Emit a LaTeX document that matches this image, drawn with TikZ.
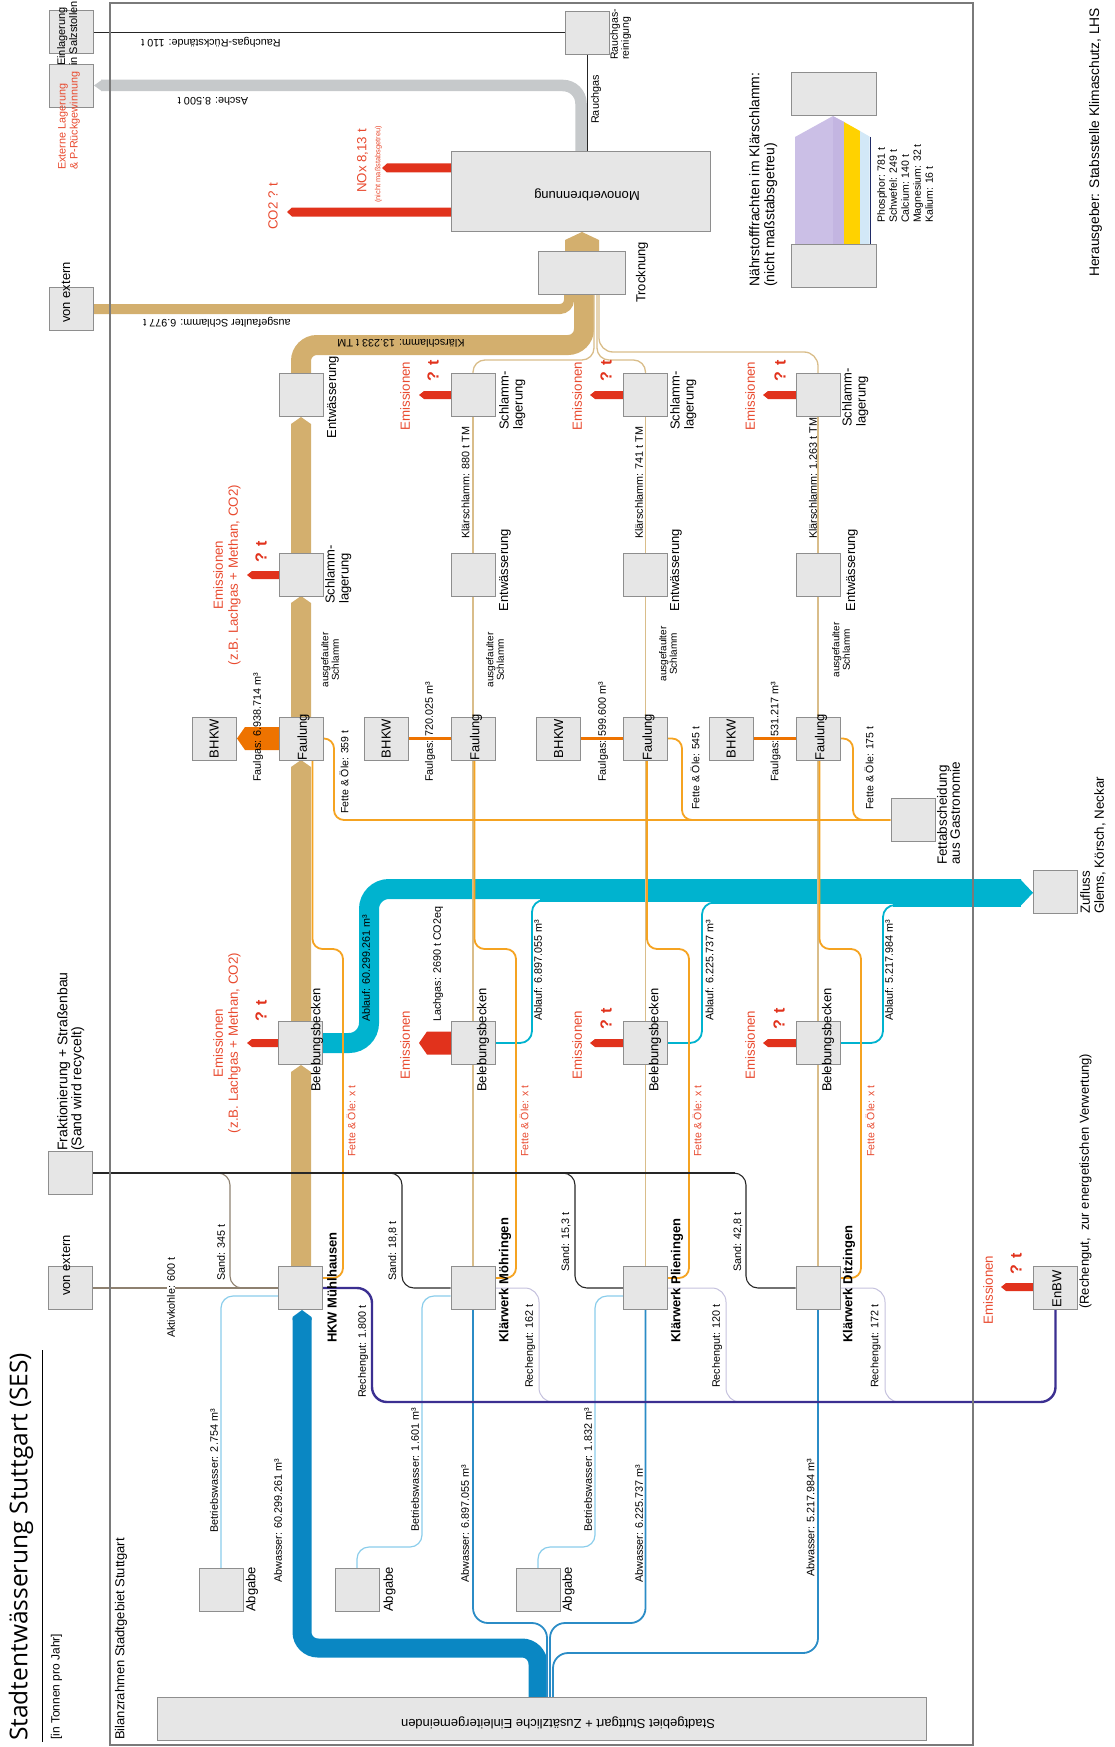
\documentclass[tikz,border=0pt]{standalone}
\usepackage{fontspec}
\setmainfont{Liberation Sans}
\newfontfamily\titlefont{Open Sans}
\usetikzlibrary{positioning}

\definecolor{boxfill}{HTML}{E6E6E6}
\definecolor{boxline}{HTML}{8E8E8E}
\definecolor{schlamm}{HTML}{D3AF6E}
\definecolor{schlammhell}{HTML}{D9BD8A}
\definecolor{ablauf}{HTML}{00B3CF}
\definecolor{abwasser}{HTML}{0A87C3}
\definecolor{abwasserhell}{HTML}{2B8CC6}
\definecolor{betrieb}{HTML}{8ACDEB}
\definecolor{fettfarbe}{HTML}{F5A321}
\definecolor{gas}{HTML}{EE7300}
\definecolor{emisrot}{HTML}{E1321C}
\definecolor{textrot}{HTML}{E84A2F}
\definecolor{rechen}{HTML}{3B2F91}
\definecolor{rechenhell}{HTML}{C5C1DD}
\definecolor{asche}{HTML}{C6C9CB}
\definecolor{kohle}{HTML}{8E8170}
\definecolor{rahmen}{HTML}{7A7A7A}
\definecolor{phosphor}{HTML}{CBBFE6}
\definecolor{phosphorb}{HTML}{C3B5E1}
\definecolor{schwefel}{HTML}{FFD200}
\definecolor{calcium}{HTML}{D2E8F7}
\definecolor{kalium}{HTML}{1F2A66}

\pgfdeclarelayer{flows}
\pgfsetlayers{flows,main}

\tikzset{
    kasten/.style={draw=boxline, fill=boxfill, line width=0.9pt, minimum width=44pt, minimum height=43pt, inner sep=0pt},
    lbl/.style={rotate=90, anchor=west, inner sep=0pt, font=\fontsize{10.8}{12}\selectfont},
    kopf/.style={rotate=180, inner sep=0pt, font=\fontsize{10.8}{12}\selectfont},
    boxlbl/.style={rotate=90, inner sep=0pt, font=\fontsize{13}{14}\selectfont},
    werk/.style={rotate=90, anchor=west, inner sep=0pt, font=\bfseries\fontsize{13}{14}\selectfont},
    emlbl/.style={rotate=90, inner sep=0pt, text=textrot, align=center, font=\fontsize{13.3}{15}\selectfont},
    qt/.style={rotate=90, inner sep=0pt, text=emisrot, font=\bfseries\fontsize{16}{16}\selectfont},
    emis/.style={fill=emisrot},
    fett/.style={draw=fettfarbe, line width=1.8pt, rounded corners=10pt},
    duenn/.style={draw=schlammhell, line width=1.3pt}
}

\begin{document}
\begin{tikzpicture}[x=1pt, y=-1pt]
\useasboundingbox (0,0) rectangle (1115,1747);

% Rahmen und Titel
\draw[rahmen, line width=1.2pt] (110,3) rectangle (973,1745);
\node[rotate=90, anchor=west, inner sep=0pt, font=\titlefont\fontsize{24.5}{28}\selectfont] (titel) at (21,1741) {Stadtentwässerung Stuttgart (SES)};
\draw[line width=0.8pt] (42,1350) -- (42,1742);
\node[lbl, font=\fontsize{12}{13}\selectfont] (einheit) at (56.5,1740) {[in Tonnen pro Jahr]};
\node[lbl, font=\fontsize{13}{14}\selectfont] (bilanz) at (121,1740) {Bilanzrahmen Stadtgebiet Stuttgart};

% Kaesten
\node[kasten] (salz) at (71,31.5) {};
\node[kasten] (extlager) at (71,86) {};
\node[kasten] (vonext1) at (71,309) {};
\node[kasten] (rgr) at (587,32.5) {};
\node[kasten, minimum width=259pt, minimum height=80pt] (mono) at (580.5,191) {};
\node[kasten, minimum width=87pt] (trock) at (581.5,272.5) {};
\node[kasten, minimum width=85pt] (ntop) at (833.5,93.5) {};
\node[kasten, minimum width=85pt] (nbot) at (833.5,265.5) {};

\node[kasten] (hentw) at (301,395) {};
\node[kasten] (hlager) at (301,575) {};
\node[kasten] (hfaul) at (301,738.5) {};
\node[kasten] (hbeleb) at (300.5,1043) {};
\node[kasten] (hkw) at (300.5,1288) {};
\node[kasten, left=42pt of hfaul] (hbhkw) {};

\node[kasten] (mlager) at (473,395) {};
\node[kasten] (mentw) at (473,575) {};
\node[kasten] (mfaul) at (473,738.5) {};
\node[kasten] (mbeleb) at (473,1043) {};
\node[kasten] (mwerk) at (473,1288) {};
\node[kasten, left=42pt of mfaul] (mbhkw) {};

\node[kasten] (plager) at (645.5,395) {};
\node[kasten] (pentw) at (645.5,575) {};
\node[kasten] (pfaul) at (645.5,738.5) {};
\node[kasten] (pbeleb) at (645.5,1043) {};
\node[kasten] (pwerk) at (645.5,1288) {};
\node[kasten, left=42pt of pfaul] (pbhkw) {};

\node[kasten] (dlager) at (818,395) {};
\node[kasten] (dentw) at (818,575) {};
\node[kasten] (dfaul) at (818,738.5) {};
\node[kasten] (dbeleb) at (818,1043) {};
\node[kasten] (dwerk) at (818,1288) {};
\node[kasten, left=42pt of dfaul] (dbhkw) {};

\node[kasten] (fett) at (913,820) {};
\node[kasten] (zufluss) at (1055.5,892) {};
\node[kasten] (enbw) at (1055.5,1288) {};
\node[kasten] (frakt) at (70.5,1173) {};
\node[kasten] (vonext2) at (70.5,1288) {};
\node[kasten] (abg1) at (221,1590) {};
\node[kasten] (abg2) at (357,1590) {};
\node[kasten] (abg3) at (538,1590) {};
\node[kasten, minimum width=769pt] (stadt) at (541.5,1718.5) {};

\begin{pgfonlayer}{flows}
% Schlamm
\fill[schlamm] (291,1266) -- (291,1072) -- (301,1065) -- (311,1072) -- (311,1266) -- cycle;
\fill[schlamm] (291,1021) -- (291,767) -- (301,760) -- (311,767) -- (311,1021) -- cycle;
\fill[schlamm] (291,717) -- (291,603) -- (301,596) -- (311,603) -- (311,717) -- cycle;
\fill[schlamm] (291,553) -- (291,424) -- (301,417) -- (311,424) -- (311,553) -- cycle;
\draw[schlamm, line width=20pt, rounded corners=16pt] (hentw.north) |- (584,345) -- (584,294);
\draw[schlamm, line width=10pt, rounded corners=9pt] (vonext1.east) -| (569,294);
\fill[schlamm] (565,251) -- (565,240) -- (582,232) -- (599,240) -- (599,251) -- cycle;

% Abwasser
\draw[abwasser, line width=19pt, rounded corners=16pt] (538,1697) |- (302,1648) -- (302,1318);
\fill[abwasser] (292.5,1320) -- (292.5,1317) -- (302,1310) -- (311.5,1317) -- (311.5,1320) -- cycle;

% Ablauf
\draw[ablauf, line width=20pt, rounded corners=20pt] (hbeleb.east) -| (369,889) -- (1021,889);
\fill[ablauf] (540,898) rectangle (1021,901.5);
\fill[ablauf] (712,898) rectangle (1021,904);
\fill[ablauf] (893,898) rectangle (1021,906.5);
\fill[ablauf] (1020,879) -- (1033,892.75) -- (1020,906.5) -- cycle;
\draw[ablauf, line width=1.8pt, rounded corners=12pt] (mbeleb.east) -| (532,900) -- (552,900);
\draw[ablauf, line width=1.8pt, rounded corners=12pt] (pbeleb.east) -| (702,902.5) -- (722,902.5);
\draw[ablauf, line width=1.8pt, rounded corners=12pt] (dbeleb.east) -| (883,905) -- (903,905);

% Klaerschlamm der Klaerwerke
\draw[duenn] (mwerk.north) -- (mbeleb.south) (mbeleb.north) -- (mfaul.south) (mfaul.north) -- (mentw.south) (mentw.north) -- (mlager.south);
\draw[duenn] (pwerk.north) -- (pbeleb.south) (pbeleb.north) -- (pfaul.south) (pfaul.north) -- (pentw.south) (pentw.north) -- (plager.south);
\draw[duenn] (dwerk.north) -- (dbeleb.south) (dbeleb.north) -- (dfaul.south) (dfaul.north) -- (dentw.south) (dentw.north) -- (dlager.south);
\draw[duenn, rounded corners=12pt] (mlager.north) |- (594,360) -- (594,294);
\draw[duenn, rounded corners=12pt] (plager.north) |- (597,360) -- (597,294);
\draw[duenn, rounded corners=14pt] (dlager.north) |- (599,352) -- (599,294);

% Abwasser der Klaerwerke
\draw[abwasserhell, line width=1.8pt, rounded corners=15pt] (mwerk.south) |- (547,1623) -- (547,1697);
\draw[abwasserhell, line width=1.8pt, rounded corners=15pt] (pwerk.south) |- (550,1623) -- (550,1697);
\draw[abwasserhell, line width=1.8pt, rounded corners=15pt] (dwerk.south) |- (553,1653) -- (553,1697);

% Betriebswasser
\draw[betrieb, line width=1.2pt, rounded corners=12pt] ([yshift=-8pt]hkw.west) -| (abg1.north);
\draw[betrieb, line width=1.2pt, rounded corners=12pt] ([yshift=-8pt]mwerk.west) -| (422,1547) -| (abg2.north);
\draw[betrieb, line width=1.2pt, rounded corners=12pt] ([yshift=-8pt]pwerk.west) -| (595,1547) -| (abg3.north);

% Fette und Oele
\draw[fett] ([yshift=10pt]hkw.east) -| (343,949) -| ([xshift=11.5pt]hfaul.south);
\draw[fett] ([yshift=10pt]mwerk.east) -| (516,949) -| ([xshift=1.5pt]mfaul.south);
\draw[fett] ([yshift=10pt]pwerk.east) -| (689,949) -| ([xshift=1.5pt]pfaul.south);
\draw[fett] ([yshift=10pt]dwerk.east) -| (861,949) -| ([xshift=1.5pt]dfaul.south);
\draw[fett] (hfaul.east) -| (334,820) -- (fett.west);
\draw[fett] (pfaul.east) -| (682,820) -- (705,820);
\draw[fett] (dfaul.east) -| (853,820) -- (875,820);

% Faulgas
\fill[gas] (279,727) -- (245,727) -- (237,738.5) -- (245,750) -- (279,750) -- cycle;
\draw[gas, line width=2.6pt] (mbhkw.east) -- (mfaul.west);
\draw[gas, line width=2.6pt] (pbhkw.east) -- (pfaul.west);
\draw[gas, line width=2.6pt] (dbhkw.east) -- (dfaul.west);

% Rechengut
\draw[rechenhell, line width=1pt, rounded corners=14pt] (mwerk.east) -| (539,1402) -- (560,1402);
\draw[rechenhell, line width=1pt, rounded corners=14pt] (pwerk.east) -| (726,1402) -- (750,1402);
\draw[rechenhell, line width=1pt, rounded corners=14pt] (dwerk.east) -| (885,1402) -- (910,1402);
\draw[rechen, line width=2.4pt, rounded corners=15pt] (hkw.east) -| (372,1402) -| (enbw.south);

% Sand und Aktivkohle
\draw[kohle, line width=1.1pt] (vonext2.east) -- (hkw.west);
\draw[kohle, line width=1.1pt, rounded corners=12pt] (213,1173) -| (230,1288) -- (hkw.west);
\draw[black!85, line width=1.1pt] (frakt.east) -- (735,1173);
\draw[black!85, line width=1.1pt, rounded corners=12pt] (385,1173) -| (402,1288) -- (mwerk.west);
\draw[black!85, line width=1.1pt, rounded corners=12pt] (558,1173) -| (575,1288) -- (pwerk.west);
\draw[black!85, line width=1.1pt, rounded corners=12pt] (725,1173) -| (746,1288) -- (dwerk.west);

% Verbrennung
\draw[asche, line width=11.5pt, rounded corners=18pt] (581,151) |- (101,85.5);
\fill[asche] (102,79.75) -- (94,85.5) -- (102,91.25) -- cycle;
\draw[black!85, line width=0.9pt] (mono.north -| rgr.south) -- (rgr.south);
\draw[black!85, line width=0.9pt] (rgr.west) -- (rgr.west -| salz.east);

% Emissionen
\fill[emis] (451,207.5) -- (292,207.5) -- (287,212) -- (292,216.5) -- (451,216.5) -- cycle;
\fill[emis] (451,163.5) -- (387,163.5) -- (382,168) -- (387,172.5) -- (451,172.5) -- cycle;
\fill[emis] (279,571) -- (252,571) -- (247,575) -- (252,579) -- (279,579) -- cycle;
\fill[emis] (278,1039) -- (252,1039) -- (247,1043) -- (252,1047) -- (278,1047) -- cycle;
\fill[emis] (451,391) -- (424,391) -- (419,395) -- (424,399) -- (451,399) -- cycle;
\fill[emis] (624,391) -- (595,391) -- (590,395) -- (595,399) -- (624,399) -- cycle;
\fill[emis] (797,391) -- (768,391) -- (763,395) -- (768,399) -- (797,399) -- cycle;
\fill[emis] (451,1031.5) -- (427,1031.5) -- (419,1043) -- (427,1054.5) -- (451,1054.5) -- cycle;
\fill[emis] (624,1039) -- (595,1039) -- (590,1043) -- (595,1047) -- (624,1047) -- cycle;
\fill[emis] (796,1039) -- (768,1039) -- (763,1043) -- (768,1047) -- (796,1047) -- cycle;
\fill[emis] (1034,1283) -- (1006,1283) -- (1001,1287) -- (1006,1291) -- (1034,1291) -- cycle;

% Naehrstoffe
\fill[phosphor] (795,244) -- (795,137) -- (833,116) -- (844,122) -- (844,244) -- cycle;
\fill[phosphorb] (833,116.5) -- (844,122) -- (844,244) -- (833,244) -- cycle;
\fill[schwefel] (844,122) -- (860,131) -- (860,244) -- (844,244) -- cycle;
\fill[calcium] (860,131) -- (869.5,136.5) -- (869.5,244) -- (860,244) -- cycle;
\draw[kalium, line width=1.6pt] (870.5,137) -- (870.5,244);
\end{pgfonlayer}

% Beschriftung der Kaesten
\node[boxlbl, anchor=north west, align=left, font=\fontsize{11}{12}\selectfont] (tsalz) at (57,66) {Einlagerung\\in Salzstollen};
\node[boxlbl, anchor=north west, align=left, text=textrot, font=\fontsize{10.8}{12}\selectfont] (text) at (58,170) {Externe Lagerung\\\& P-Rückgewinnung};
\node[boxlbl, anchor=west] (tvon1) at (66,323) {von extern};
\node[boxlbl, anchor=west] (tvon2) at (66,1296) {von extern};
\node[boxlbl, anchor=north west, align=left, font=\fontsize{14}{14}\selectfont] (tfrakt) at (57,1151) {Fraktionierung + Straßenbau\\(Sand wird recycelt)};
\node[boxlbl, anchor=north west, align=left, font=\fontsize{10.5}{11}\selectfont] (trgr) at (610,60) {Rauchgas-\\reinigung};
\node[boxlbl, rotate=90] (tmono) at (587,195) {Monoverbrennung};
\node[boxlbl, anchor=west] (ttrock) at (642,303) {Trocknung};
\node[boxlbl, anchor=north west, align=left, font=\fontsize{14}{15}\selectfont] (tnaehr) at (749,287) {Nährstofffrachten im Klärschlamm:\\(nicht maßstabsgetreu)};
\node[boxlbl, anchor=north west, align=left, font=\fontsize{10.5}{12}\selectfont] (tliste) at (877,223) {Phosphor: 781 t\\Schwefel: 249 t\\Calcium: 140 t\\Magnesium: 32 t\\Kalium: 16 t};
\node[boxlbl, anchor=west, font=\fontsize{13.8}{15}\selectfont] (theraus) at (1095.5,277) {Herausgeber: Stabsstelle Klimaschutz, LHS};
\node[boxlbl, anchor=north west, align=left, font=\fontsize{13.5}{13}\selectfont] (tfett) at (937,865) {Fettabscheidung\\aus Gastronomie};
\node[boxlbl, anchor=north west, align=left, font=\fontsize{13.3}{14}\selectfont] (tzufluss) at (1080,914) {Zufluss\\Glems, Körsch, Neckar};
\node[boxlbl] (tenbw) at (1057,1289) {EnBW};
\node[boxlbl, anchor=west] (tverw) at (1085.5,1309) {(Rechengut,\ \ zur energetischen Verwertung)};
\node[boxlbl, rotate=90] (tstadt) at (558,1723) {Stadtgebiet Stuttgart + Zusätzliche Einleitergemeinden};

\node[boxlbl, anchor=north] (thentw) at (327,397) {Entwässerung};
\node[boxlbl, anchor=north] (tmentw) at (499,570) {Entwässerung};
\node[boxlbl, anchor=north] (tpentw) at (670,570) {Entwässerung};
\node[boxlbl, anchor=north] (tdentw) at (846,570) {Entwässerung};
\node[boxlbl, anchor=north west, align=left] (thlager) at (325,604) {Schlamm-\\lagerung};
\node[boxlbl, anchor=north west, align=left] (tmlager) at (499,430) {Schlamm-\\lagerung};
\node[boxlbl, anchor=north west, align=left] (tplager) at (670,430) {Schlamm-\\lagerung};
\node[boxlbl, anchor=north west, align=left] (tdlager) at (842,427) {Schlamm-\\lagerung};
\node[boxlbl, anchor=west] (thfaul) at (303.5,761) {Faulung};
\node[boxlbl, anchor=west] (tmfaul) at (476,761) {Faulung};
\node[boxlbl, anchor=west] (tpfaul) at (648.5,761) {Faulung};
\node[boxlbl, anchor=west] (tdfaul) at (821,761) {Faulung};
\node[boxlbl] (thbhkw) at (hbhkw) {BHKW};
\node[boxlbl] (tmbhkw) at (mbhkw) {BHKW};
\node[boxlbl] (tpbhkw) at (pbhkw) {BHKW};
\node[boxlbl] (tdbhkw) at (dbhkw) {BHKW};
\node[boxlbl, anchor=west] (thbeleb) at (317,1092) {Belebungsbecken};
\node[boxlbl, anchor=west] (tmbeleb) at (483,1092) {Belebungsbecken};
\node[boxlbl, anchor=west] (tpbeleb) at (655,1092) {Belebungsbecken};
\node[boxlbl, anchor=west] (tdbeleb) at (828,1092) {Belebungsbecken};
\node[werk] (thkw) at (332,1343) {HKW Mühlhausen};
\node[werk] (tmwerk) at (505,1343) {Klärwerk Möhringen};
\node[werk] (tpwerk) at (677,1343) {Klärwerk Plieningen};
\node[werk] (tdwerk) at (849,1343) {Klärwerk Ditzingen};
\node[boxlbl, anchor=west] (tabg1) at (252,1612) {Abgabe};
\node[boxlbl, anchor=west] (tabg2) at (389.5,1612) {Abgabe};
\node[boxlbl, anchor=west] (tabg3) at (568.5,1612) {Abgabe};

% Emissionen
\node[emlbl] (eh1) at (227,575) {Emissionen\\(z.B. Lachgas + Methan, CO2)};
\node[emlbl] (eh2) at (227,1043) {Emissionen\\(z.B. Lachgas + Methan, CO2)};
\node[emlbl] (em1) at (405,396) {Emissionen};
\node[emlbl] (ep1) at (577,396) {Emissionen};
\node[emlbl] (ed1) at (750,396) {Emissionen};
\node[emlbl] (em2) at (405,1045) {Emissionen};
\node[emlbl] (ep2) at (577,1045) {Emissionen};
\node[emlbl] (ed2) at (750,1045) {Emissionen};
\node[emlbl] (ee) at (988,1290) {Emissionen};
\node[qt] (qh1) at (261,552) {? t};
\node[qt] (qh2) at (261,1011) {? t};
\node[qt] (qm1) at (433,371) {? t};
\node[qt] (qp1) at (606,371) {? t};
\node[qt] (qd1) at (780,371) {? t};
\node[qt] (qp2) at (606,1019) {? t};
\node[qt] (qd2) at (779,1019) {? t};
\node[qt] (qe) at (1016,1264) {? t};
\node[emlbl, anchor=west] (tco2) at (273,230) {CO2 ? t};
\node[emlbl, anchor=west] (tnox) at (362.5,193) {NOx 8,13 t};
\node[emlbl, anchor=west, font=\fontsize{7.5}{8}\selectfont] (tmass) at (378.5,203) {(nicht maßstabsgetreu)};

% Stroeme
\node[kopf] (lrr) at (211,42) {Rauchgas-Rückstände: 110 t};
\node[kopf] (lasche) at (213,101) {Asche: 8.500 t};
\node[kopf] (lausext) at (217,322) {ausgefaulter Schlamm: 6.977 t};
\node[kopf] (lks) at (401,343) {Klärschlamm: 13.233 t TM};
\node[lbl] (lrg) at (596,124) {Rauchgas};
\node[lbl] (lfg1) at (258,782) {Faulgas: 6.938.714 m³};
\node[lbl] (lfg2) at (430,782) {Faulgas: 720.025 m³};
\node[lbl] (lfg3) at (603,782) {Faulgas: 599.600 m³};
\node[lbl] (lfg4) at (775.5,782) {Faulgas: 531.217 m³};
\node[lbl, font=\fontsize{10.5}{12}\selectfont] (lfo1) at (344,814) {Fette \& Öle: 359 t};
\node[lbl, font=\fontsize{10.5}{12}\selectfont] (lfo3) at (695,810) {Fette \& Öle: 545 t};
\node[lbl, font=\fontsize{10.5}{12}\selectfont] (lfo4) at (869,810) {Fette \& Öle: 175 t};
\node[lbl, text=textrot, font=\fontsize{10.5}{12}\selectfont] (lfx1) at (351,1157) {Fette \& Öle: x t};
\node[lbl, text=textrot, font=\fontsize{10.5}{12}\selectfont] (lfx2) at (524,1157) {Fette \& Öle: x t};
\node[lbl, text=textrot, font=\fontsize{10.5}{12}\selectfont] (lfx3) at (697,1157) {Fette \& Öle: x t};
\node[lbl, text=textrot, font=\fontsize{10.5}{12}\selectfont] (lfx4) at (870,1157) {Fette \& Öle: x t};
\node[lbl, anchor=center, align=center, font=\fontsize{10}{10.5}\selectfont] (lag1) at (330,660) {ausgefaulter\\Schlamm};
\node[lbl, anchor=center, align=center, font=\fontsize{10}{10.5}\selectfont] (lag2) at (495,660) {ausgefaulter\\Schlamm};
\node[lbl, anchor=center, align=center, font=\fontsize{10}{10.5}\selectfont] (lag3) at (668,654) {ausgefaulter\\Schlamm};
\node[lbl, anchor=center, align=center, font=\fontsize{10}{10.5}\selectfont] (lag4) at (841,650) {ausgefaulter\\Schlamm};
\node[lbl] (lks2) at (465.5,539) {Klärschlamm: 880 t TM};
\node[lbl] (lks3) at (639,539) {Klärschlamm: 741 t TM};
\node[lbl] (lks4) at (813,539) {Klärschlamm: 1.263 t TM};
\node[lbl] (lab1) at (366,1022) {Ablauf: 60.299.261 m³};
\node[lbl] (lab2) at (538,1021) {Ablauf: 6.897.055 m³};
\node[lbl] (lab3) at (709.5,1021) {Ablauf: 6.225.737 m³};
\node[lbl] (lab4) at (889,1021) {Ablauf: 5.217.984 m³};
\node[lbl] (llach) at (438,1022) {Lachgas: 2690 t CO2eq};
\node[lbl] (lsd1) at (221,1281) {Sand: 345 t};
\node[lbl] (lsd2) at (393,1281) {Sand: 18,8 t};
\node[lbl] (lsd3) at (566,1272) {Sand: 15,3 t};
\node[lbl] (lsd4) at (738,1272) {Sand: 42,8 t};
\node[lbl, fill=white] (lkohle) at (171,1338) {Aktivkohle: 600 t};
\node[lbl] (lbw1) at (214,1533) {Betriebswasser: 2.754 m³};
\node[lbl] (lbw2) at (415,1532) {Betriebswasser: 1.601 m³};
\node[lbl] (lbw3) at (588,1532) {Betriebswasser: 1.832 m³};
\node[lbl] (law1) at (278,1583) {Abwasser: 60.299.261 m³};
\node[lbl] (law2) at (465,1583) {Abwasser: 6.897.055 m³};
\node[lbl] (law3) at (639,1583) {Abwasser: 6.225.737 m³};
\node[lbl] (law4) at (810.5,1577) {Abwasser: 5.217.984 m³};
\node[lbl] (lrg1) at (363,1398) {Rechengut: 1.800 t};
\node[lbl] (lrg2) at (530,1388) {Rechengut: 162 t};
\node[lbl] (lrg3) at (717,1388) {Rechengut: 120 t};
\node[lbl] (lrg4) at (875.5,1388) {Rechengut: 172 t};
\end{tikzpicture}
\end{document}
